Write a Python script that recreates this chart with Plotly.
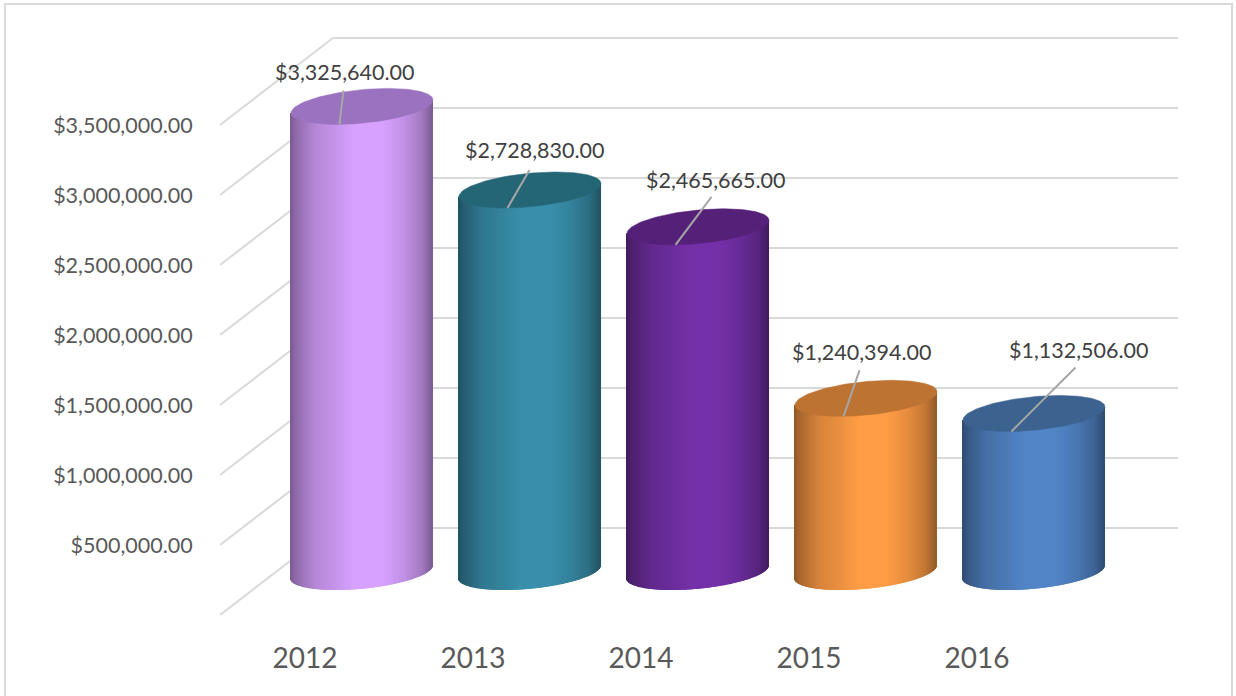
import numpy as np
import plotly.graph_objects as go

# ---- data ----
years = ["2012", "2013", "2014", "2015", "2016"]
revenue = [3325640, 2728830, 2465665, 1240394, 1132506]
y_levels = [0, 500000, 1000000, 1500000, 2000000, 2500000, 3000000, 3500000]
y_labels = ["", "$500,000.00", "$1,000,000.00", "$1,500,000.00", "$2,000,000.00",
            "$2,500,000.00", "$3,000,000.00", "$3,500,000.00"]

# ---- colours ----
body_colors = [(215, 161, 255), (57, 143, 171), (116, 48, 168), (255, 156, 69), (82, 133, 199)]
cap_colors = ["#9A72C0", "#246676", "#552178", "#BD7332", "#3C628F"]
shade_t = [-1.0, -0.92, -0.65, -0.35, -0.1, 0.3, 0.6, 0.85, 1.0]
shade_m = [0.56, 0.66, 0.84, 0.92, 1.0, 1.0, 0.90, 0.76, 0.58]

# ---- layout geometry (pixels of the page) ----
W, H = 1236, 696
PLOT_L, PLOT_R, PLOT_T, PLOT_B = 220, W, 0, 629
X0, DX = 362, 168            # first cylinder centre / category spacing
Y0, PX_PER_UNIT = 572, 70 / 500000
A, B, SHEAR = 71, 16.8, 0.092  # cap ellipse
FRONT_DY, BACK_DY = 43, -44    # grid front and back relative to floor centre
FRONT_X, BACK_X, END_X = 220, 333, 1178
TICK_DX = -57                # year labels sit on the front plane
ANCHOR = (-22.5, 18)         # leader line end relative to cap centre
LABEL_OFFSETS = [(5, -52), (27, -58), (40, -65), (18, -64), (67, -81)]
LEADER_OFFSETS = [(4, -34), (22, -38), (36, -48), (16, -46), (64, -64)]


def xd(px):
    return (px - X0) / DX


def yd(px):
    return (Y0 - px) / PX_PER_UNIT


fig = go.Figure()

for i, (val, col, cap) in enumerate(zip(revenue, body_colors, cap_colors)):
    dx = np.arange(-A + 0.5, A, 1.0)
    t = dx / A
    m = np.interp(t, shade_t, shade_m)
    colors = [f"rgb({c[0]:.0f},{c[1]:.0f},{c[2]:.0f})"
              for c in np.outer(m, np.array(col))]
    arc = B * np.sqrt(1 - t ** 2)
    base = (SHEAR * dx - arc) / PX_PER_UNIT
    top = val + SHEAR * dx / PX_PER_UNIT
    fig.add_trace(go.Bar(
        x=i + dx / DX, y=top - base, base=base, width=1.05 / DX,
        marker=dict(color=colors, line=dict(width=0)),
        hoverinfo="skip", showlegend=False))
    th = np.linspace(0, 2 * np.pi, 160)
    ex = A * np.cos(th)
    ey = SHEAR * ex + B * np.sin(th)
    fig.add_trace(go.Scatter(
        x=i + ex / DX, y=val + ey / PX_PER_UNIT, mode="lines", fill="toself",
        fillcolor=cap, line=dict(color=cap, width=0.5),
        hoverinfo="skip", showlegend=False))

shapes = []
for lv in y_levels:
    fy = yd(Y0 + FRONT_DY) + lv
    by = yd(Y0 + BACK_DY) + lv
    line = dict(color="#D9D9D9", width=2)
    shapes.append(dict(type="line", xref="x", yref="y", layer="below", line=line,
                       x0=xd(FRONT_X), y0=fy, x1=xd(BACK_X), y1=by))
    shapes.append(dict(type="line", xref="x", yref="y", layer="below", line=line,
                       x0=xd(BACK_X), y0=by, x1=xd(END_X), y1=by))
pw, ph = PLOT_R - PLOT_L, PLOT_B - PLOT_T
shapes.append(dict(type="rect", xref="paper", yref="paper", layer="below",
                   x0=(5 - PLOT_L) / pw, x1=(1232 - PLOT_L) / pw,
                   y0=(PLOT_B - 710) / ph, y1=(PLOT_B - 4) / ph,
                   line=dict(color="#D9D9D9", width=2), fillcolor="white"))

annotations = []
for i, (val, off, lead) in enumerate(zip(revenue, LABEL_OFFSETS, LEADER_OFFSETS)):
    ax, ay = i + ANCHOR[0] / DX, val - ANCHOR[1] / PX_PER_UNIT
    fig.add_trace(go.Scatter(
        x=[ax, ax + lead[0] / DX], y=[ay, ay - lead[1] / PX_PER_UNIT], mode="lines",
        line=dict(color="#A6A6A6", width=2), hoverinfo="skip", showlegend=False))
    annotations.append(dict(
        x=ax, y=ay, xref="x", yref="y", text=f"${val:,.2f}",
        xshift=off[0], yshift=-off[1], showarrow=False,
        font=dict(family="Lato", size=21.5, color="#404040")))

fig.update_layout(
    width=W, height=H, autosize=False,
    margin=dict(l=PLOT_L, r=W - PLOT_R, t=PLOT_T, b=H - PLOT_B, pad=0),
    paper_bgcolor="white", plot_bgcolor="rgba(0,0,0,0)",
    barmode="overlay", showlegend=False, shapes=shapes, annotations=annotations,
    xaxis=dict(range=[xd(PLOT_L), xd(PLOT_R)], showgrid=False, zeroline=False, showline=False,
               tickmode="array", tickvals=[i + TICK_DX / DX for i in range(len(years))],
               ticktext=years, ticks="outside", ticklen=4, tickcolor="rgba(0,0,0,0)",
               tickfont=dict(family="Lato", size=28, color="#595959")),
    yaxis=dict(range=[yd(PLOT_B), yd(PLOT_T)], showgrid=False, zeroline=False, showline=False,
               tickmode="array", tickvals=[lv + yd(Y0 + FRONT_DY) for lv in y_levels],
               ticktext=y_labels, ticks="outside", ticklen=22, tickcolor="rgba(0,0,0,0)",
               tickfont=dict(family="Lato", size=21.5, color="#595959")),
)

fig.write_html("out.html", config={"displayModeBar": False},
               post_script="document.body.style.margin='0';")
